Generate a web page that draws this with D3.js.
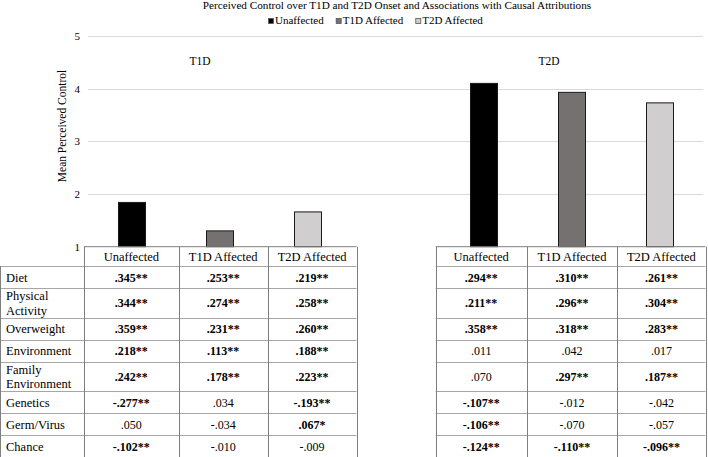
<!DOCTYPE html>
<html><head><meta charset="utf-8">
<script src="https://cdn.jsdelivr.net/npm/d3@7"></script>
<style>
html,body{margin:0;padding:0;background:#fff;}
svg, svg text{font-family:"Liberation Serif", serif;fill:#000;}
</style></head>
<body><svg id="c" width="708" height="457" font-family="Liberation Serif, serif"></svg>
<script>
// ---------- data ----------
const groups = ["T1D", "T2D"];
const series = ["Unaffected", "T1D Affected", "T2D Affected"];
const t1dMeans = [1.85, 1.31, 1.67];
const t2dMeans = [4.11, 3.94, 3.74];
const yTicks = [1, 2, 3, 4, 5];
const rowLabels = [["Diet"], ["Physical", "Activity"], ["Overweight"], ["Environment"], ["Family", "Environment"], ["Genetics"], ["Germ/Virus"], ["Chance"]];
const t1dCorr = [
  [".345**", ".253**", ".219**"],
  [".344**", ".274**", ".258**"],
  [".359**", ".231**", ".260**"],
  [".218**", ".113**", ".188**"],
  [".242**", ".178**", ".223**"],
  ["-.277**", ".034", "-.193**"],
  [".050", "-.034", ".067*"],
  ["-.102**", "-.010", "-.009"]
];
const t2dCorr = [
  [".294**", ".310**", ".261**"],
  [".211**", ".296**", ".304**"],
  [".358**", ".318**", ".283**"],
  [".011", ".042", ".017"],
  [".070", ".297**", ".187**"],
  ["-.107**", "-.012", "-.042"],
  ["-.106**", "-.070", "-.057"],
  ["-.124**", "-.110**", "-.096**"]
];
const colors = ["#000000", "#767171", "#d0cece"];

// ---------- layout ----------
const FONT = "Liberation Serif, serif";
const svg = d3.select("#c");
const plotL = 88, plotR = 704, yTop = 36, yBase = 246.7;
const slots = ["T1D|0", "T1D|1", "T1D|2", "gap", "T2D|0", "T2D|1", "T2D|2"];
const x = d3.scaleBand().domain(slots).range([plotL, plotR]).paddingInner(0).paddingOuter(0);
const y = d3.scaleLinear().domain([1, 5]).range([yBase, yTop]);
const barW = 28;
const cx = k => x(k) + x.bandwidth() / 2;

// gridlines
svg.append("g").selectAll("line").data(yTicks.filter(t => t > 1)).join("line")
  .attr("x1", plotL).attr("x2", plotR - 1)
  .attr("y1", d => Math.round(y(d)) + 0.5).attr("y2", d => Math.round(y(d)) + 0.5)
  .attr("stroke", "#d9d9d9").attr("stroke-width", 1);

// y tick labels
svg.append("g").selectAll("text").data(yTicks).join("text")
  .attr("font-family", FONT)
  .attr("x", 80).attr("y", d => y(d) + 4)
  .attr("text-anchor", "end").attr("font-size", 11).text(d => d);

// y title
svg.append("text").attr("font-family", FONT).attr("transform", `translate(65.5,126) rotate(-90)`)
  .attr("text-anchor", "middle").attr("font-size", 11.5).text("Mean Perceived Control");

// bars
const barData = [];
series.forEach((s, i) => {
  barData.push({ key: "T1D|" + i, v: t1dMeans[i], c: colors[i] });
  barData.push({ key: "T2D|" + i, v: t2dMeans[i], c: colors[i] });
});
svg.append("g").selectAll("rect").data(barData).join("rect")
  .attr("x", d => cx(d.key) - barW / 2 + 0.5)
  .attr("width", barW - 1)
  .attr("y", d => y(d.v) + 0.5)
  .attr("height", d => y(1) - y(d.v) - 0.5)
  .attr("fill", d => d.c).attr("stroke", "#1a1a1a").attr("stroke-width", 1);

// group labels
svg.append("text").attr("font-family", FONT).attr("x", cx("T1D|1") - 20).attr("y", 65).attr("text-anchor", "middle")
  .attr("font-size", 11.5).text(groups[0]);
svg.append("text").attr("font-family", FONT).attr("x", cx("T2D|1") - 23).attr("y", 65).attr("text-anchor", "middle")
  .attr("font-size", 11.5).text(groups[1]);

// title
svg.append("text").attr("font-family", FONT).attr("x", 397).attr("y", 9).attr("text-anchor", "middle")
  .attr("font-size", 11.2).text("Perceived Control over T1D and T2D Onset and Associations with Causal Attributions");

// legend
const lg = svg.append("g");
let lx = 268;
series.forEach((s, i) => {
  lg.append("rect").attr("x", lx + 0.5).attr("y", 18.5).attr("width", 5).attr("height", 5)
    .attr("fill", colors[i]).attr("stroke", "#555").attr("stroke-width", 0.8);
  const t = lg.append("text").attr("font-family", FONT).attr("x", lx + 7).attr("y", 24).attr("font-size", 11).text(s);
  lx += 7 + t.node().getComputedTextLength() + 12;
});

// ---------- tables ----------
const rowTop = 266;
const rowH = rowLabels.map(r => r.length > 1 ? 29.5 : 22);
const rowY = [rowTop];
rowH.forEach(h => rowY.push(rowY[rowY.length - 1] + h));
const hLine = "#a6a6a6", vLine = "#7f7f7f";

function drawTable(g, cols, data, withLabels) {
  const left = withLabels ? 0.5 : cols[0];
  g.append("line").attr("x1", cols[0]).attr("x2", cols[cols.length - 1]).attr("y1", yBase).attr("y2", yBase)
    .attr("stroke", vLine);
  g.selectAll("line.h").data(rowY).join("line").attr("class", "h")
    .attr("x1", left).attr("x2", cols[cols.length - 1])
    .attr("y1", d => Math.round(d) + 0.5).attr("y2", d => Math.round(d) + 0.5)
    .attr("stroke", hLine).attr("stroke-width", 1);
  g.selectAll("line.v").data(cols).join("line").attr("class", "v")
    .attr("x1", d => Math.round(d) + 0.5).attr("x2", d => Math.round(d) + 0.5)
    .attr("y1", yBase).attr("y2", 457).attr("stroke", vLine);
  if (withLabels) {
    g.append("line").attr("x1", 0.5).attr("x2", 0.5).attr("y1", rowTop).attr("y2", 457).attr("stroke", vLine);
    rowLabels.forEach((lines, r) => {
      const cy = (rowY[r] + rowY[r + 1]) / 2;
      lines.forEach((ln, k) => {
        g.append("text").attr("font-family", FONT).attr("x", 6).attr("y", cy + 4.5 + (k - (lines.length - 1) / 2) * 14.5)
          .attr("font-size", 12.5).text(ln);
      });
    });
  }
  series.forEach((s, i) => {
    g.append("text").attr("font-family", FONT).attr("x", (cols[i] + cols[i + 1]) / 2).attr("y", 260.5)
      .attr("text-anchor", "middle").attr("font-size", 12.5).text(s);
  });
  data.forEach((row, r) => {
    const cy = (rowY[r] + rowY[r + 1]) / 2;
    row.forEach((v, i) => {
      g.append("text").attr("font-family", FONT).attr("x", (cols[i] + cols[i + 1]) / 2).attr("y", cy + 4.5)
        .attr("text-anchor", "middle").attr("font-size", 12)
        .attr("font-weight", v.includes("*") ? "bold" : "normal").text(v);
    });
  });
}
drawTable(svg.append("g"), [84, 178.7, 267.7, 356.5], t1dCorr, true);
drawTable(svg.append("g"), [435.7, 526.7, 617.3, 705.5], t2dCorr, false);
</script></body></html>
